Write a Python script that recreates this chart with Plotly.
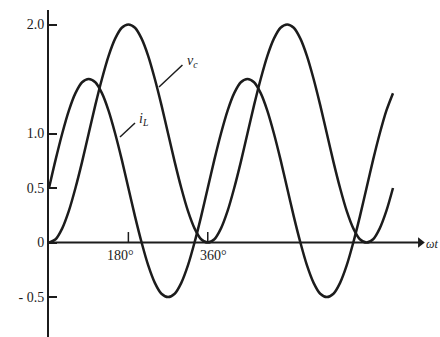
import plotly.graph_objects as go

# angle in degrees (omega t), read every 15 degrees
theta = [0, 15, 30, 45, 60, 75, 90, 105, 120, 135, 150, 165, 180, 195, 210, 225, 240, 255,
         270, 285, 300, 315, 330, 345, 360, 375, 390, 405, 420, 435, 450, 465, 480, 495,
         510, 525, 540, 555, 570, 585, 600, 615, 630, 645, 660, 675, 690, 705, 720, 735,
         750, 765, 780]
# inductor current i_L
i_L = [0.5, 0.76, 1.0, 1.21, 1.37, 1.47, 1.5, 1.47, 1.37, 1.21, 1.0, 0.76, 0.5, 0.24, 0.0,
       -0.21, -0.37, -0.47, -0.5, -0.47, -0.37, -0.21, 0.0, 0.24,
       0.5, 0.76, 1.0, 1.21, 1.37, 1.47, 1.5, 1.47, 1.37, 1.21, 1.0, 0.76, 0.5, 0.24, 0.0,
       -0.21, -0.37, -0.47, -0.5, -0.47, -0.37, -0.21, 0.0, 0.24,
       0.5, 0.76, 1.0, 1.21, 1.37]
# capacitor voltage v_c
v_c = [0.0, 0.03, 0.13, 0.29, 0.5, 0.74, 1.0, 1.26, 1.5, 1.71, 1.87, 1.97, 2.0, 1.97, 1.87,
       1.71, 1.5, 1.26, 1.0, 0.74, 0.5, 0.29, 0.13, 0.03,
       0.0, 0.03, 0.13, 0.29, 0.5, 0.74, 1.0, 1.26, 1.5, 1.71, 1.87, 1.97, 2.0, 1.97, 1.87,
       1.71, 1.5, 1.26, 1.0, 0.74, 0.5, 0.29, 0.13, 0.03,
       0.0, 0.03, 0.13, 0.29, 0.5]

y_tickvals = [2.0, 1.0, 0.5, 0.0, -0.5]
y_ticktext = ["2.0", "1.0", "0.5", "0", "- 0.5"]
x_tickvals = [180, 360]
x_ticktext = ["180°", "360°"]

INK = "#1c1c1c"
FONT = "Liberation Serif"

fig = go.Figure()
for ys in (i_L, v_c):
    fig.add_trace(go.Scatter(x=theta, y=ys, mode="lines",
                             line=dict(color=INK, width=2.5, shape="spline", smoothing=0.8),
                             hoverinfo="skip", showlegend=False))

# x axis line with arrow head
fig.add_trace(go.Scatter(x=[0, 842], y=[0, 0], mode="lines",
                         line=dict(color=INK, width=2), hoverinfo="skip", showlegend=False))
fig.add_trace(go.Scatter(x=[842], y=[0], mode="markers",
                         marker=dict(symbol="triangle-right", size=9, color=INK),
                         hoverinfo="skip", showlegend=False))

shapes = []
annotations = []
# x tick marks and labels
for xv, txt in zip(x_tickvals, x_ticktext):
    shapes.append(dict(type="line", xref="x", yref="y", x0=xv, x1=xv, y0=0, y1=0.096,
                       line=dict(color=INK, width=1.5)))
    annotations.append(dict(x=xv - (19 if xv == 180 else -14), y=-0.115, xref="x", yref="y",
                            text=txt, showarrow=False,
                            font=dict(family=FONT, size=14, color=INK)))
annotations.append(dict(x=868, y=-0.01, xref="x", yref="y", text="<i>ωt</i>",
                        showarrow=False, font=dict(family=FONT, size=12, color=INK)))
# curve labels with leader lines
shapes.append(dict(type="line", xref="x", yref="y", x0=302.6, y0=1.628, x1=249.4, y1=1.427,
                   line=dict(color=INK, width=1.5)))
annotations.append(dict(x=326, y=1.665, xref="x", yref="y", text="<i>v<sub>c</sub></i>",
                        showarrow=False, font=dict(family=FONT, size=14, color=INK)))
shapes.append(dict(type="line", xref="x", yref="y", x0=195, y0=1.096, x1=161, y1=0.968,
                   line=dict(color=INK, width=1.5)))
annotations.append(dict(x=214, y=1.125, xref="x", yref="y", text="<i>i<sub>L</sub></i>",
                        showarrow=False, font=dict(family=FONT, size=14, color=INK)))

fig.update_layout(
    width=440, height=337,
    margin=dict(l=49, r=0, t=10, b=0),
    paper_bgcolor="white", plot_bgcolor="white",
    shapes=shapes, annotations=annotations,
    xaxis=dict(range=[0, 886.6], visible=False, fixedrange=True),
    yaxis=dict(range=[-0.867, 2.133], showgrid=False, zeroline=False,
               showline=True, linecolor=INK, linewidth=2,
               ticks="inside", ticklen=8, tickwidth=1.5, tickcolor=INK,
               tickvals=y_tickvals, ticktext=y_ticktext,
               tickfont=dict(family=FONT, size=14, color=INK), fixedrange=True),
)

fig.write_html("out.html", config={"displayModeBar": False},
               post_script="document.body.style.margin='0';document.body.style.overflow='hidden';")
